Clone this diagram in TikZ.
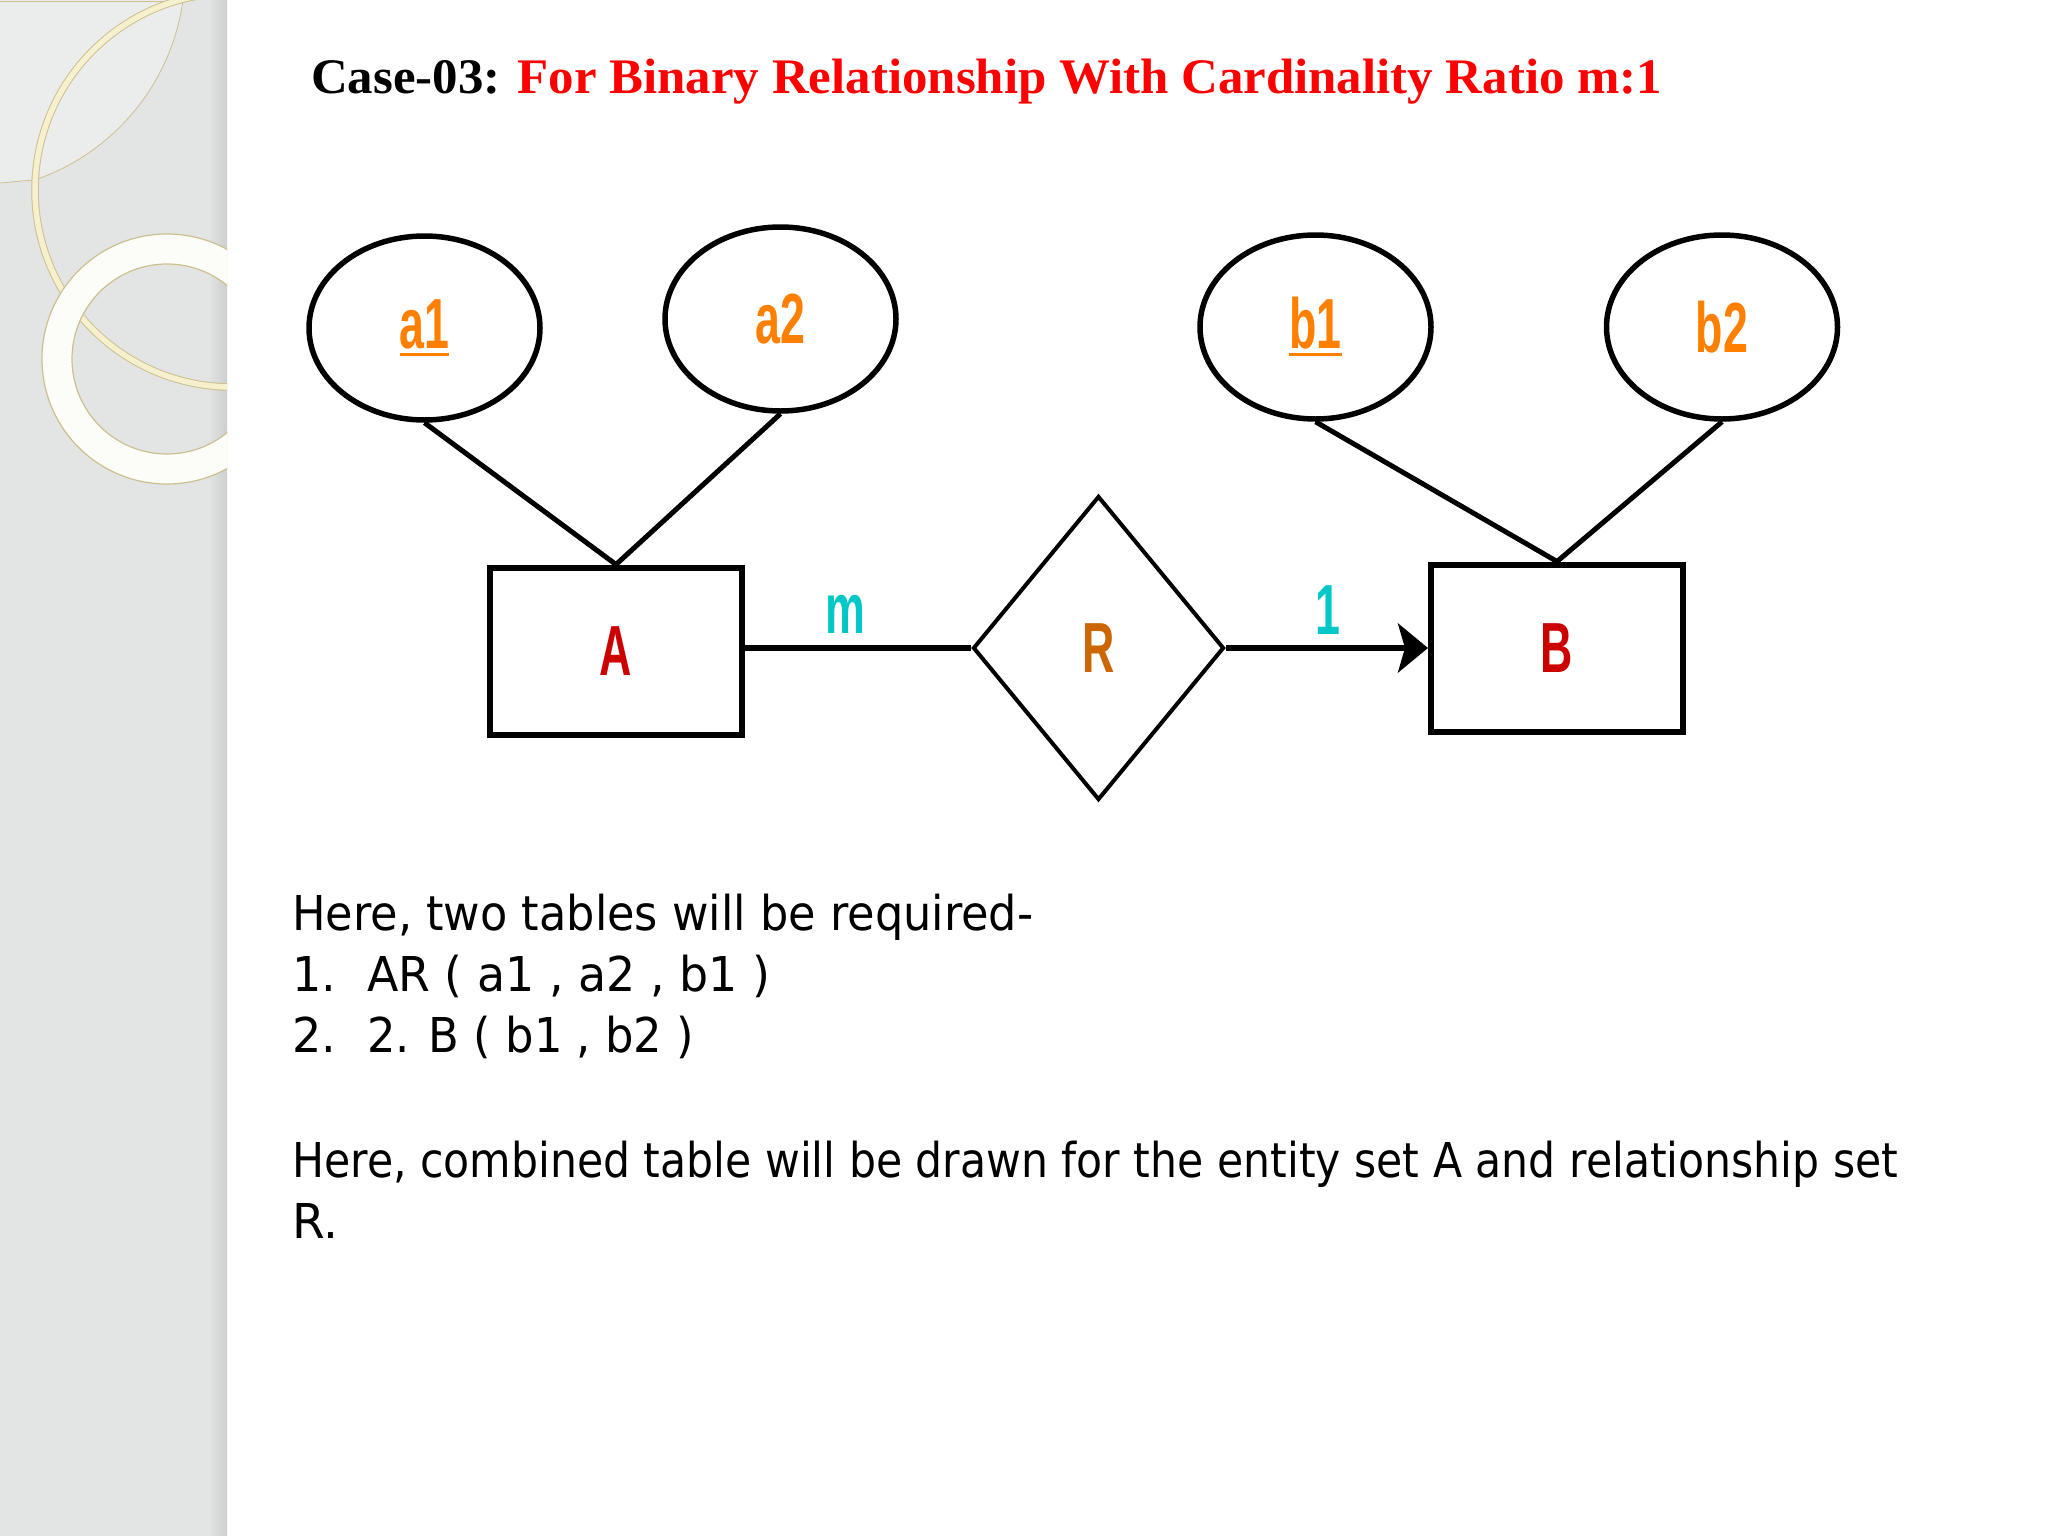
\documentclass[tikz,border=0pt]{standalone}
\usepackage{fontspec}
\usepackage{graphicx}
\usetikzlibrary{shapes.geometric,arrows.meta}
\newfontfamily\titlefont{Liberation Serif}
\newfontfamily\bodyfont{DejaVu Sans}
\newfontfamily\erfont{Liberation Sans}
\definecolor{attrorange}{RGB}{255,128,0}
\definecolor{entred}{RGB}{204,0,0}
\definecolor{relorange}{RGB}{204,102,0}
\definecolor{cardcyan}{RGB}{0,200,200}
\definecolor{titlered}{RGB}{255,0,0}
\definecolor{sidegrey}{RGB}{227,229,228}
\definecolor{sidedark}{RGB}{204,207,206}
\definecolor{ringcream}{RGB}{246,240,206}
\definecolor{ringedge}{RGB}{205,192,142}
\definecolor{ringwhite}{RGB}{252,252,249}
\newsavebox\ulbox
\newcommand\erl[1]{\scalebox{0.63}[1]{\erfont\bfseries\fontsize{71}{71}\selectfont #1}}
\newcommand\erul[1]{\scalebox{0.63}[1]{\erfont\bfseries\fontsize{71}{71}\selectfont\sbox\ulbox{#1}\rlap{\rule[-7.5pt]{\wd\ulbox}{3.5pt}}\usebox\ulbox}}
\newcommand\fitline[2]{\resizebox{#1pt}{\height}{\bodyfont\fontsize{48}{48}\selectfont #2}}
\tikzset{
  attr/.style={ellipse, draw=black, line width=5.5, minimum width=231, minimum height=184, inner sep=0, text=attrorange},
  entity/.style={rectangle, draw=black, line width=6, minimum width=252, minimum height=167, inner sep=0, text=entred},
  rel/.style={diamond, draw=black, line width=4, minimum width=251, minimum height=304, inner sep=0, text=relorange},
  link/.style={line width=5, draw=black},
  card/.style={inner sep=0, anchor=base, text=cardcyan},
  body/.style={inner sep=0, anchor=base west, text=black},
}
\begin{document}
\begin{tikzpicture}[x=1pt,y=-1pt]
\useasboundingbox (0,0) rectangle (2048,1536);
\fill[white] (0,0) rectangle (2048,1536);
% ---- sidebar
\fill[sidegrey] (0,0) rectangle (227,1536);
\shade[left color=sidegrey, right color=sidedark] (208,0) rectangle (227,1536);
\begin{scope}
  \clip (0,0) rectangle (227,1536);
  \fill[white, opacity=0.3] (0,0) -- (183,0) arc[start angle=7.8, end angle=71, radius=222] -- (0,183) -- cycle;
  \draw[ringedge, line width=0.8] (0,1) -- (183,1);
  \draw[ringedge, line width=0.8] (183,0) arc[start angle=7.8, end angle=71, radius=222] -- (0,183);
  \draw[ringedge, line width=7.5] (232,190) circle[radius=197];
  \draw[ringcream, line width=5.5] (232,190) circle[radius=197];
  \fill[ringwhite, even odd rule] (167,359) circle[radius=125] (167,359) circle[radius=95];
  \draw[ringedge, line width=1.2] (167,359) circle[radius=125];
  \draw[ringedge, line width=1.2] (167,359) circle[radius=95];
\end{scope}
% ---- title
\node[anchor=base west, inner sep=0] (title) at (311,94)
  {\resizebox{1351pt}{34.5pt}{\titlefont\bfseries\fontsize{51}{51}\selectfont Case-03: \textcolor{titlered}{For Binary Relationship With Cardinality Ratio m:1}}};
% ---- ER diagram
\node[attr] (a1) at (424.5,328) {\erul{a1}};
\node[attr] (a2) at (780.5,319) {\erl{a2}};
\node[attr] (b1) at (1315.5,327) {\erul{b1}};
\node[attr] (b2) at (1722,327) {\erl{b2}};
\node[entity] (A) at (616,651) {\erl{A}};
\node[entity] (B) at (1557,648) {\erl{B}};
\node[rel] (R) at (1098.5,648) {\erl{R}};
\draw[link] (a1.south) -- (A.north);
\draw[link] (a2.south) -- (A.north);
\draw[link] (b1.south) -- (B.north);
\draw[link] (b2.south) -- (B.north);
\draw[line width=6] (R.west -| A.east) -- (R.west);
\draw[line width=6, -{Stealth[length=30pt, width=49pt, inset=7pt]}] (R.east) -- (R.east -| B.west);
\node[card] (m) at (845,633) {\erl{m}};
\node[card] (one) at (1328,634) {\erl{1}};
% ---- body text
\node[body] (t1) at (292,930) {\fitline{741}{Here, two tables will be required-}};
\node[body] (n1) at (292,991) {\fitline{44}{1.}};
\node[body] (t2) at (367,991) {\fitline{403}{AR ( a1 , a2 , b1 )}};
\node[body] (n2) at (292,1052) {\fitline{44}{2.}};
\node[body] (t3) at (367,1052) {\fitline{327}{2. B ( b1 , b2 )}};
\node[body] (t4) at (292,1177) {\fitline{1606}{Here, combined table will be drawn for the entity set A and relationship set}};
\node[body] (t5) at (292,1238) {\fitline{46}{R.}};
\end{tikzpicture}
\end{document}
